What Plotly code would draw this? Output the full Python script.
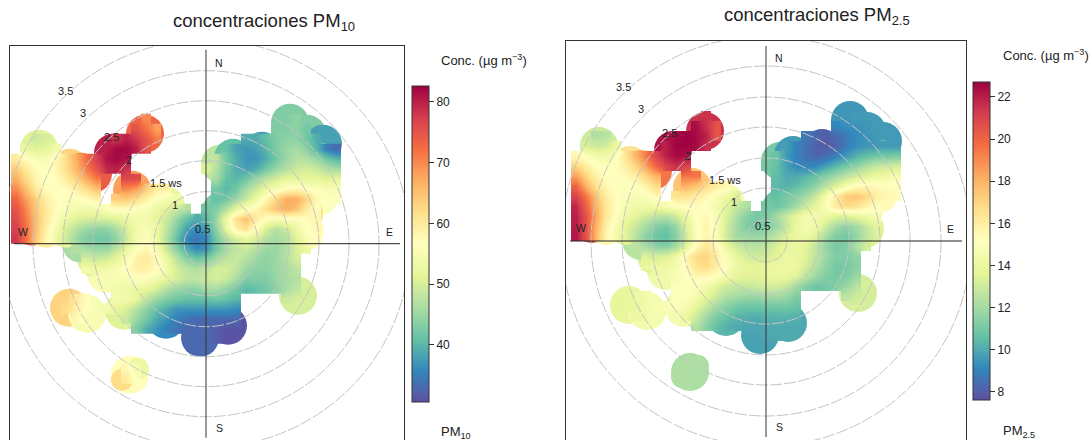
import plotly.graph_objects as go

_ = None
W, H = 1089, 440

SPECTRAL = ["#5E4FA2", "#3288BD", "#66C2A5", "#ABDDA4", "#E6F598", "#FFFFBF",
            "#FEE08B", "#FDAE61", "#F46D43", "#D53E4F", "#9E0142"]

GRID_X = list(range(-190, 140, 10))
GRID_Y = list(range(135, -155, -10))

# (row, first column, concentrations)
PM10_SEGMENTS = [
    (135, 80, [43, 43]),
    (125, -70, [72, 70, 69]), (125, 70, [43, 43, 44, 44]),
    (115, -170, [50, 50]), (115, -80, [77, 75, 72, 68]), (115, 60, [42, 43, 43, 44, 42, 40]),
    (105, -180, [50, 49, 50, 52]), (105, -100, [76, 78, 80, 78, 75, 71]),
    (105, 30, [40, 39, 39, 41, 43, 44, 44, 42, 39, 36]),
    (95, -180, [52, 51, 52, 54]), (95, -100, [80, 82, 82, 80, 75, 70]),
    (95, 10, [46, 41, 38, 37, 38, 40, 43, 45, 46, 44, 40, 35, 33]),
    (85, -190, [60, 57, 55, 55, 58, 62, 67, 72, 77, 81, 82, 81]),
    (85, 0, [50, 48, 42, 39, 37, 37, 39, 42, 45, 47, 47, 45, 42, 40]),
    (75, -190, [64, 60, 57, 56, 58, 62, 66, 71, 75, 79, 80, 78]),
    (75, 0, [51, 47, 42, 39, 38, 39, 42, 45, 47, 49, 50, 49, 47, 46]),
    (65, -190, [67, 62, 58, 56, 57, 60, 63, 67, 71, 73, _, 76, 76, 74]),
    (65, 0, [50, 46, 41, 40, 42, 45, 48, 50, 52, 52, 52, 52, 51, 52]),
    (55, -190, [70, 65, 60, 57, 56, 57, 59, 62, 65, _, 70, 70, 68, 64, 60, 59, 57]),
    (55, 10, [42, 40, 42, 46, 49, 53, 55, 57, 58, 57, 56, 55, 55]),
    (45, -190, [73, 68, 63, 59, 57, 56, 56, 57, 59, _, 64, 64, 62, 59, 56, 55, 54, 52]),
    (45, 0, [41, 41, 42, 45, 49, 53, 58, 63, 67, 67, 63, 58, 56, 56]),
    (35, -190, [75, 70, 64, 60, 57, 55, 54, 54, 54, 56, 57, 57, 56, 55, 53, 51, 49, 47]),
    (35, 0, [42, 43, 47, 52, 56, 58, 62, 65, 67, 65, 60, 57]),
    (25, -190, [76, 71, 65, 60, 56, 53, 51, 50, 50, 50, 51, 53, 54, 54, 52, 49, 45, 41, 39, 40,
                45, 53, 62, 65, 60, 56, 55, 56, 56, 57, 58]),
    (15, -190, [77, 72, 65, 59, 54, 50, 47, 45, 44, 44, 46, 50, 54, 55, 53, 48, 43, 38, 36, 38,
                44, 52, 59, 61, 56, 50, 47, 49, 53, 56, 58]),
    (5, -190, [78, 72, 64, 58, 53, 49, 45, 43, 42, 42, 44, 49, 54, 56, 53, 47, 41, 36, 34, 36,
               42, 47, 50, 52, 50, 47, 46, 47, 51, 55, 57]),
    (-5, -140, [49, 47, 46, 45, 45, 48, 52, 56, 58, 55, 49, 44, 39, 36, 37, 42, 46, 48, 49, 47,
                45, 45, 47, 50, 53, 55]),
    (-15, -130, [51, 50, 49, 50, 52, 55, 59, 60, 58, 53, 48, 44, 42, 43, 46, 48, 49, 47, 45, 44,
                 45, 47, 50]),
    (-25, -120, [54, 53, 54, 55, 57, 59, 59, 57, 54, 50, 48, 47, 48, 50, 50, 48, 45, 44, 44, 45,
                 46, 48]),
    (-35, -120, [55, 55, 55, 55, 55, 56, 56, 54, 52, 50, 48, 48, 49, 50, 49, 46, 43, 43, 43, 45,
                 46, 47]),
    (-45, -140, [62, 60]),
    (-45, -100, [54, 54, 53, 53, 52, 50, 47, 45, 44, 44, 46, 46, 44, 42, 40, 41, 42, 44, 46, 48, 49]),
    (-55, -150, [64, 63, 60, 57, 56]),
    (-55, -90, [54, 54, 52, 48, 45, 43, 42, 41, 41, 41, 42, 41, 40]),
    (-55, 80, [49, 50, 50, 50]),
    (-65, -150, [63, 62, 59, 56, 55, 54, 52]),
    (-65, -80, [50, 47, 44, 41, 39, 37, 37, 37, 37, 37, 37, 36]),
    (-65, 80, [50, 50, 49]),
    (-75, -140, [61, 58, 55, 54]),
    (-75, -90, [51, 49, 45, 42, 39, 37, 35, 34, 33, 33, 33, 33, 33, 33]),
    (-85, -120, [56]),
    (-85, -80, [47, 43, 39, 37, 35, 34, 33, 33, 33, 32, 31, 31, 32]),
    (-95, -20, [33, 33, 33, 32, 31, 32]),
    (-105, -10, [33, 33]),
    (-115, -80, [54, 52]),
    (-125, -90, [61, 58, 54, 52]),
    (-135, -90, [62, 60, 56, 54]),
    (-145, -80, [62, 59]),
]

PM25_SEGMENTS = [
    (135, 80, [9.6, 9.6]),
    (125, -70, [22, 21.5, 20.5]), (125, 70, [9.4, 9.5, 9.6, 9.6]),
    (115, -170, [12.4, 12.6]), (115, -80, [22.5, 22.4, 21.5, 20.5]),
    (115, 60, [9.0, 9.1, 9.3, 9.4, 9.5, 9.5]),
    (105, -180, [12.4, 12.3, 12.5, 13]), (105, -100, [22, 22.5, 22.7, 22.5, 22, 20.5]),
    (105, 30, [9, 8.7, 8.2, 8, 8.3, 8.8, 9.2, 9.4, 9.6, 9.6]),
    (95, -180, [13.3, 13, 13.2, 14]),
    (95, -100, [22, 22.7, 22.7, 22.5, 21.5, 20]),
    (95, 10, [11, 9.7, 9, 8.5, 8.1, 7.9, 8.2, 8.8, 9.3, 9.5, 9.6, 9.6, 9.6]),
    (85, -190, [15.5, 15, 14.5, 14.3, 15, 16.5, 18, 19.5, 21, 22, 22.5, 22.3]),
    (85, 0, [11.2, 10.8, 9.6, 9, 8.5, 8.2, 8.5, 9, 9.6, 10.2, 10.6, 11, 11, 11.2]),
    (75, -190, [17, 16, 15.2, 15, 15.3, 16, 17, 18.5, 20, 21, 21.5, 21]),
    (75, 0, [11, 10.6, 9.8, 9.2, 9, 9.2, 9.8, 10.4, 11, 11.6, 12.3, 12.8, 13, 13.2]),
    (65, -190, [18.5, 17, 15.8, 15.2, 15, 15.4, 16, 17, 18, 19.5, _, 19.5, 19.5, 19]),
    (65, 0, [11, 10.5, 10, 10, 10.3, 10.8, 11.4, 12, 12.6, 13.2, 13.6, 14, 14.2, 14.6]),
    (55, -190, [20, 18, 16.5, 15.5, 15, 14.9, 15.2, 15.8, 16.8, _, 18, 18, 17.5, 16.8, 16, 15.5, 15]),
    (55, 10, [10.4, 10.2, 10.5, 11, 11.6, 12.6, 13.6, 14.6, 15.4, 15.5, 15.4, 15.3, 15.3]),
    (45, -190, [21, 19.5, 17.5, 16, 15.2, 14.9, 14.7, 14.8, 15.5, _, 16.5, 16.5, 16, 15.5, 14.8,
                14.2, 13.5, 12.8]),
    (45, 0, [10.8, 10.6, 11, 11.4, 12, 13, 14.6, 16.2, 17.3, 17.5, 17, 16, 15.5, 15.4]),
    (35, -190, [21.8, 20, 18, 16.3, 15.2, 14.6, 14.3, 14.2, 14.3, 14.6, 15, 15.2, 15.3, 15, 14.5,
                13.6, 12.8, 12.2]),
    (35, 0, [11, 10.8, 11.2, 12, 13, 13.8, 15, 16.3, 16.8, 16.5, 15.8, 15.2]),
    (25, -190, [22, 20.5, 18.3, 16.2, 15, 14.2, 13.6, 13, 12.6, 12.4, 13, 14.2, 15.2, 15.5, 14.8,
                13.4, 12.2, 11.4, 11, 11.2, 12, 13, 13.9, 14.5, 14.5, 14, 13.5, 13.5, 13.8, 14.2, 14.6]),
    (15, -190, [22, 20.5, 18, 15.8, 14.6, 13.6, 12.8, 12, 11.3, 11, 11.8, 13.4, 15, 15.7, 14.8,
                13.2, 12, 11.2, 11, 11.2, 11.8, 12.8, 14, 14.5, 14.2, 13, 12, 11.5, 12, 12.8, 13.6]),
    (5, -190, [22.2, 20.5, 17.8, 15.6, 14.4, 13.5, 12.4, 11.4, 10.8, 10.5, 11.4, 13, 15, 15.6, 14.8,
               13, 12, 11.8, 11.8, 12, 12.6, 13.4, 14, 14.2, 13.4, 12, 11.2, 11, 11.6, 12.6, 13.4]),
    (-5, -140, [13, 12.6, 12, 11.4, 11.3, 12, 13.6, 15.4, 16.4, 15.5, 14, 13, 12.6, 12.5, 12.7,
                13.4, 13.9, 14, 13.6, 12.6, 11.6, 11, 11.3, 12.2, 13.2, 13.8]),
    (-15, -130, [13.6, 13.4, 13.2, 13.4, 14.2, 15.6, 16.8, 17, 16, 14.8, 13.8, 13.2, 13, 13.2,
                 13.6, 14, 14, 13.4, 12.6, 11.8, 11.2, 11.2, 11.6]),
    (-25, -120, [14, 14, 14.2, 14.5, 15.4, 16.5, 16.8, 16, 15, 14.2, 13.8, 13.6, 13.8, 14, 14.2,
                 14, 13.2, 12.3, 11.5, 11, 11, 11.4]),
    (-35, -120, [14.2, 14.2, 14.4, 14.8, 15.1, 15.5, 15.5, 15.1, 14.4, 13.8, 13.6, 13.6, 13.8, 14,
                 14, 13.5, 12.6, 11.8, 11.2, 11, 11.2, 11.8]),
    (-45, -140, [14, 14]),
    (-45, -100, [14.8, 15, 15, 14.8, 14.4, 13.6, 13, 12.8, 12.8, 13, 13.2, 13.2, 12.8, 12, 11.2,
                 10.8, 11, 11.3, 11.8, 12.5, 13]),
    (-55, -150, [13.7, 13.8, 14, 14.4, 14.6]),
    (-55, -90, [15, 15, 14.5, 13.8, 13, 12.3, 12, 11.8, 11.8, 12, 12, 11.8, 11.2]),
    (-55, 80, [12.6, 13, 13.2, 13.4]),
    (-65, -150, [13.6, 13.8, 14, 14.4, 14.6, 14.8, 15]),
    (-65, -80, [14.6, 13.8, 12.8, 12, 11.4, 11, 10.8, 10.8, 10.9, 10.9, 10.9, 10.7]),
    (-65, 80, [13.2, 13.4, 13.5]),
    (-75, -140, [13.9, 14, 14.4, 14.6]),
    (-75, -90, [14.6, 14, 13, 12, 11.2, 10.7, 10.3, 10.2, 10.1, 10.2, 10.3, 10.3, 10.2, 10.2]),
    (-85, -120, [14.6]),
    (-85, -80, [13.4, 12.4, 11.4, 10.6, 10.2, 10, 9.9, 9.9, 10, 10, 10, 10, 10]),
    (-95, -20, [9.8, 9.8, 9.9, 10, 10, 10]),
    (-105, -10, [9.8, 9.8]),
    (-115, -80, [12.3, 12.3]),
    (-125, -90, [12.4, 12.3, 12.2, 12.1]),
    (-135, -90, [12.3, 12.2, 12.2, 12.1]),
    (-145, -80, [12.3, 12.2]),
]

# Rounded rim of the blobs: one sample per bump in the outline
RIM_X = [14, 27, 56, 84, 101, 117, 115, 115, 113, 98, 99, 92, 22, -6, -40, -70, -82, -137, -119, -76,
         -100, -110, -125, -174, -160, -140, -174, -167, -136, -125, -113, -93, -61, -74, -40, -5, 15,
         -84, -68]
RIM_Y = [80, 86, 93, 121, 110, 100, 82, 65, 47, 30, 12, -52, -82, -94, -76, -67, -67, -64, -70, -131,
         -30, -15, 0, 17, 15, 15, 30, 95, 76, 72, 70, 91, 110, 54, 38, 11, 33,
         -136, -125]
RIM_PM10 = [48, 41, 38, 43, 43, 38, 42, 50, 56, 62, 57, 50, 31, 33, 36, 45, 51, 63, 55, 57,
            55, 51, 46, 72, 60, 52, 67, 51, 63, 70, 74, 80, 73, 68, 52, 36, 43,
            62, 53]
RIM_PM25 = [11, 9.6, 8.1, 9.5, 9.6, 9.6, 11, 13.6, 15.4, 15.5, 13.5, 13.2, 10, 9.8, 10.3, 12.5, 14.5,
            13.8, 14.5, 12.2, 14.3, 13.4, 12.5, 20.5, 15.5, 13.6, 18, 13, 16.5, 18, 19.5, 22.3, 21.5,
            17.5, 14.5, 11.8, 10.8,
            12.3, 12.2]
RIM_SIZES = [38] * 37 + [22, 22]

PM10_RANGE = [30.6, 82.6]
PM25_RANGE = [7.62, 22.71]
PM10_TICKS = [40, 50, 60, 70, 80]
PM25_TICKS = [8, 10, 12, 14, 16, 18, 20, 22]
RINGS_LEFT = [22, 52, 83, 113, 143, 173, 204]
RINGS_RIGHT = [21, 53, 83, 114, 144, 175, 205]
RING_LABELS = ["0.5", "1", "1.5 ws", "2", "2.5", "3", "3.5"]

LEFT = dict(dom=(9.5, 404), top=46, xr=[-196.5, 198], yr=[-196.3, 197.7], rings=RINGS_LEFT,
            h=(-192, 194), v=(-194, 194),
            labels=[(203, 229), (175, 205), (166, 183), (129, 160), (111, 137), (83, 113), (65, 91)],
            comp=[("N", 219, 63), ("E", 389, 232), ("S", 219, 428), ("W", 23, 232)])
RIGHT = dict(dom=(566, 965.7), top=41, xr=[-200, 199.7], yr=[-199, 200], rings=RINGS_RIGHT,
             h=(-196, 196), v=(-196, 195),
             labels=[(762, 226), (734, 202), (725, 180), (688, 156), (669, 133), (641, 109), (623, 87)],
             comp=[("N", 779, 58), ("E", 950, 229), ("S", 779, 427), ("W", 581, 228)])


def build_z(segments):
    z = [[None] * len(GRID_X) for _y in GRID_Y]
    for row, start, values in segments:
        r = GRID_Y.index(row)
        c = GRID_X.index(start)
        for k, v in enumerate(values):
            z[r][c + k] = v

    # Cells on an outer corner of the staircase are left to the rounded rim below them.
    def blank(r, c):
        if c < 0 or c >= len(GRID_X):
            return False
        if r < 0 or r >= len(GRID_Y):
            return True
        return z[r][c] is None

    corners = []
    for r in range(len(GRID_Y)):
        for c in range(len(GRID_X)):
            if (z[r][c] is not None and (blank(r - 1, c) or blank(r + 1, c))
                    and (blank(r, c - 1) or blank(r, c + 1))):
                corners.append((r, c))
    for r, c in corners:
        z[r][c] = None
    return z


def colorbar(x, top, length, ticks):
    return dict(x=x / W, xanchor="left", y=1 - top / H, yanchor="top", len=length, lenmode="pixels",
                thickness=17, thicknessmode="pixels", xpad=0, ypad=0, outlinecolor="#333333",
                outlinewidth=1, ticks="outside", ticklen=5, tickwidth=1, tickcolor="#333333",
                tickvals=ticks, tickfont=dict(size=12, color="#222222"))


FONT = "Liberation Sans, Arial, sans-serif"
fig = go.Figure()
fig.add_trace(go.Scatter(x=RIM_X, y=RIM_Y, mode="markers", xaxis="x", yaxis="y", showlegend=False, hoverinfo="skip",
                         marker=dict(size=RIM_SIZES, color=RIM_PM10, cmin=PM10_RANGE[0], cmax=PM10_RANGE[1],
                                     colorscale=SPECTRAL, showscale=False, opacity=1, line=dict(width=0))))
fig.add_trace(go.Scatter(x=RIM_X, y=RIM_Y, mode="markers", xaxis="x2", yaxis="y2", showlegend=False, hoverinfo="skip",
                         marker=dict(size=RIM_SIZES, color=RIM_PM25, cmin=PM25_RANGE[0], cmax=PM25_RANGE[1],
                                     colorscale=SPECTRAL, showscale=False, opacity=1, line=dict(width=0))))
fig.add_trace(go.Heatmap(x=GRID_X, y=GRID_Y, z=build_z(PM10_SEGMENTS), zmin=PM10_RANGE[0], zmax=PM10_RANGE[1],
                         zsmooth="best", colorscale=SPECTRAL, hoverongaps=False, xaxis="x3", yaxis="y3",
                         colorbar=colorbar(412, 86, 316, PM10_TICKS)))
fig.add_trace(go.Heatmap(x=GRID_X, y=GRID_Y, z=build_z(PM25_SEGMENTS), zmin=PM25_RANGE[0], zmax=PM25_RANGE[1],
                         zsmooth="best", colorscale=SPECTRAL, hoverongaps=False, xaxis="x4", yaxis="y4",
                         colorbar=colorbar(973, 82, 318, PM25_TICKS)))

shapes, annotations = [], []


def text(t, x, y, size, anchor="center"):
    annotations.append(dict(text=t, x=x / W, y=1 - y / H, xref="paper", yref="paper", xanchor=anchor,
                            yanchor="middle", showarrow=False, font=dict(size=size, color="#222222"),
                            borderpad=0))


for panel, xr, yr in ((LEFT, "x", "y"), (RIGHT, "x2", "y2")):
    for r in panel["rings"]:
        shapes.append(dict(type="circle", xref=xr, yref=yr, x0=-r, x1=r, y0=-r, y1=r,
                           line=dict(color="#c4c4c4", width=1, dash="12px,2px")))
    shapes.append(dict(type="line", xref=xr, yref=yr, x0=panel["h"][0], x1=panel["h"][1], y0=0, y1=0,
                       line=dict(color="#222222", width=1)))
    shapes.append(dict(type="line", xref=xr, yref=yr, x0=0, x1=0, y0=panel["v"][0], y1=panel["v"][1],
                       line=dict(color="#333333", width=1)))
    for lab, (x, y) in zip(RING_LABELS, panel["labels"]):
        text(lab, x, y, 11)
    for lab, x, y in panel["comp"]:
        text(lab, x, y, 10.5)

text("concentraciones PM<sub>10</sub>", 264, 22, 18.5)
text("concentraciones PM<sub>2.5</sub>", 817, 16, 18.5)
text("Conc. (µg m<sup>−3</sup>)", 440, 60, 13, "left")
text("Conc. (µg m<sup>−3</sup>)", 1002, 55, 13, "left")
text("PM<sub>10</sub>", 440, 432, 13, "left")
text("PM<sub>2.5</sub>", 1002, 431, 13, "left")


def xaxis(panel):
    a, b = panel["dom"]
    return dict(domain=[a / W, b / W], range=panel["xr"], side="top", showline=True, linecolor="#333333",
                linewidth=1, mirror=False, showgrid=False, zeroline=False, showticklabels=False, ticks="")


def yaxis(panel, anchor):
    return dict(domain=[0, 1 - panel["top"] / H], range=panel["yr"], anchor=anchor, showline=True,
                linecolor="#333333", linewidth=1, mirror=True, showgrid=False, zeroline=False,
                showticklabels=False, ticks="")


fig.update_layout(width=W, height=H, autosize=False, margin=dict(l=0, r=0, t=0, b=0),
                  paper_bgcolor="white", plot_bgcolor="white", font=dict(family=FONT),
                  xaxis=xaxis(LEFT), yaxis=yaxis(LEFT, "x"),
                  xaxis2=dict(xaxis(RIGHT), anchor="y2"), yaxis2=yaxis(RIGHT, "x2"),
                  xaxis3=dict(overlaying="x", range=LEFT["xr"], visible=False),
                  yaxis3=dict(overlaying="y", range=LEFT["yr"], visible=False),
                  xaxis4=dict(overlaying="x2", range=RIGHT["xr"], visible=False),
                  yaxis4=dict(overlaying="y2", range=RIGHT["yr"], visible=False),
                  shapes=shapes, annotations=annotations)
fig.write_html("out.html", config=dict(displayModeBar=False),
               post_script="document.body.style.margin='0';document.body.style.overflow='hidden';")
